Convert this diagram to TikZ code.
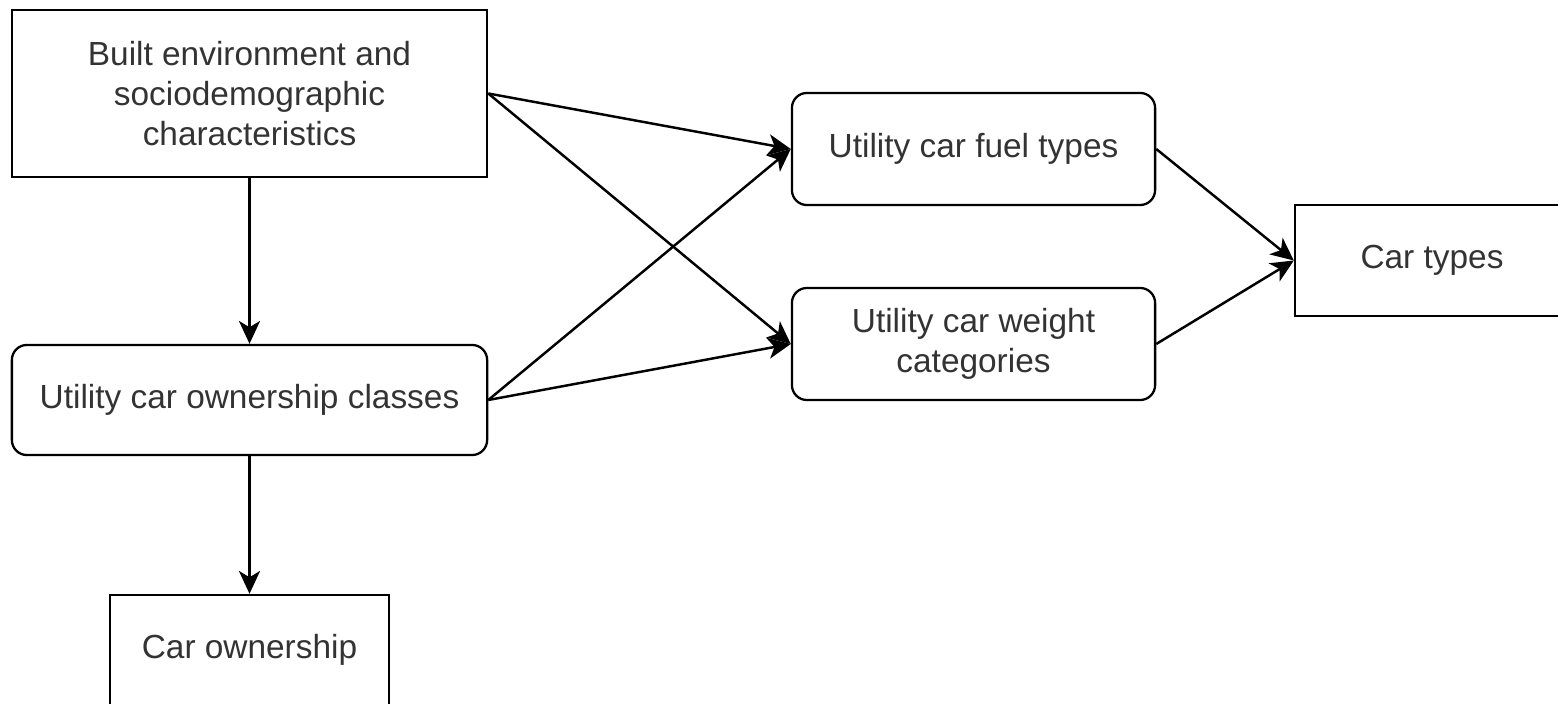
\documentclass[tikz,border=0pt]{standalone}
\usepackage{fontspec}
\setmainfont{Liberation Sans}
\usetikzlibrary{arrows.meta}

\begin{document}
\begin{tikzpicture}[x=0.01cm, y=-0.01cm,
		every node/.style={draw,line width=0.65pt,inner sep=0pt,align=center,text=black!80,font=\fontsize{9.5}{11.3}\selectfont},
		rbox/.style={rounded corners=0.15cm},
		link/.style={line width=0.7pt,-{Stealth[length=6.5pt,width=6pt,inset=1.8pt]}}]
		\clip (0,0) rectangle (1558,704);

		%––––– left column –––––
		\node (env)
			at
			(249.5,93.5)
			[minimum width=4.75cm, minimum height=1.67cm]
			{Built environment and\\sociodemographic\\characteristics};

		\node (cls) at (249.5,400) [rbox, minimum width=4.75cm, minimum height=1.1cm] {Utility car ownership classes};
		\draw[link] (env) -- (cls);

		\node (own) at (249.5,650) [minimum width=2.79cm, minimum height=1.1cm] {Car ownership};
		\draw[link] (cls) -- (own);

		%––––– middle column –––––
		\node (fuel) at (973.5,149) [rbox, minimum width=3.63cm, minimum height=1.12cm] {Utility car fuel types};
		\draw[link] (env.east) -- (fuel.west);
		\draw[link] (cls.east) -- (fuel.west);

		\node (wgt)
			at
			(973.5,344)
			[rbox, minimum width=3.63cm, minimum height=1.12cm]
			{Utility car weight\\categories};
		\draw[link] (env.east) -- (wgt.west);
		\draw[link] (cls.east) -- (wgt.west);

		%––––– right column –––––
		\node (typ) at (1432,260.5) [minimum width=2.74cm, minimum height=1.11cm] {Car types};
		\draw[link] (fuel.east) -- (typ.west);
		\draw[link] (wgt.east) -- (typ.west);
	\end{tikzpicture}
\end{document}
